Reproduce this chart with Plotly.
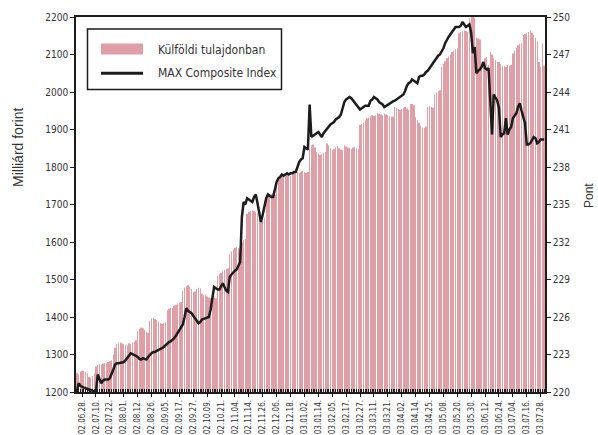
import plotly.graph_objects as go

# ---------------- data ----------------
tick_labels = [
    "02.06.28.", "02.07.10.", "02.07.22.", "02.08.01.", "02.08.12.", "02.08.26.",
    "02.09.05.", "02.09.17.", "02.09.27.", "02.10.09.", "02.10.21.", "02.11.04.",
    "02.11.14.", "02.11.26.", "02.12.06.", "02.12.18.", "03.01.02.", "03.01.14.",
    "03.02.05.", "03.02.17.", "03.02.27.", "03.03.11.", "03.03.21.", "03.04.02.",
    "03.04.14.", "03.04.25.", "03.05.08.", "03.05.20.", "03.05.30.", "03.06.12.",
    "03.06.24.", "03.07.04.", "03.07.16.", "03.07.28.",
]

# Külföldi tulajdonban (milliárd forint), one value per trading day
foreign_owned = [
    1250, 1247, 1255, 1257, 1256, 1254, 1250, 1240, 1238, 1242,
    1250, 1268, 1272, 1275, 1273, 1276, 1278, 1277, 1280, 1282,
    1285, 1300, 1318, 1328, 1330, 1332, 1330, 1328, 1326, 1325,
    1330, 1328, 1332, 1335, 1338, 1362, 1368, 1372, 1370, 1366,
    1360, 1358, 1390, 1396, 1398, 1395, 1392, 1388, 1385, 1382,
    1384, 1386, 1418, 1422, 1425, 1424, 1430, 1433, 1436, 1438,
    1440, 1470, 1478, 1482, 1485, 1480, 1475, 1466, 1468, 1475,
    1478, 1476, 1462, 1458, 1460, 1455, 1452, 1450, 1454, 1452,
    1450, 1510, 1515, 1518, 1522, 1526, 1528, 1530, 1568, 1575,
    1580, 1585, 1587, 1584, 1580, 1598, 1605, 1608, 1675, 1680,
    1683, 1685, 1682, 1680, 1678, 1670, 1660, 1655, 1665, 1718,
    1722, 1725, 1728, 1730, 1726, 1760, 1765, 1772, 1775, 1778,
    1780, 1783, 1778, 1776, 1785, 1788, 1790, 1787, 1785, 1788,
    1790, 1786, 1784, 1787, 1848, 1858, 1860, 1852, 1840, 1836,
    1832, 1835, 1838, 1840, 1863, 1858, 1850, 1845, 1848, 1852,
    1856, 1850, 1847, 1845, 1858, 1855, 1852, 1850, 1848, 1852,
    1855, 1850, 1848, 1912, 1915, 1918, 1925, 1930, 1932, 1935,
    1938, 1936, 1938, 1944, 1942, 1940, 1938, 1942, 1940, 1938,
    1936, 1935, 1934, 1960, 1958, 1955, 1952, 1955, 1958, 1960,
    1956, 1953, 1968, 1968, 1965, 1933, 1925, 1918, 1910, 1905,
    1904, 1908, 1960, 1962, 1960, 1958, 1992, 1998, 2002, 2005,
    2067, 2075, 2082, 2090, 2095, 2100, 2107, 2110, 2114, 2117,
    2157, 2160, 2162, 2165, 2163, 2160, 2197, 2205, 2200, 2198,
    2145, 2143, 2140, 2067, 2080, 2090, 2093, 2072, 2107, 2100,
    2090, 2085, 2080, 2080, 2075, 2070, 2068, 2067, 2072, 2070,
    2072, 2103, 2110, 2118, 2125, 2128, 2130, 2152, 2155, 2158,
    2160, 2165, 2158, 2152, 2145, 2135, 2080, 2067, 2130, 2070,
]

# MAX Composite Index (pont)
max_index = [
    220.0, 220.7, 220.5, 220.4, 220.35, 220.3, 220.25, 220.2, 220.2, 220.15,
    220.1, 220.0, 221.4, 221.1, 220.7, 220.9, 221.0, 221.0, 221.0, 221.1,
    221.4, 221.8, 222.2, 222.3, 222.3, 222.35, 222.35, 222.4, 222.55, 222.7,
    222.9, 223.1, 223.05, 222.95, 222.9, 222.8, 222.65, 222.6, 222.7, 222.65,
    222.6, 222.8, 223.0, 223.1, 223.2, 223.2, 223.3, 223.35, 223.4, 223.5,
    223.6, 223.75, 223.85, 224.0, 224.05, 224.15, 224.3, 224.5, 224.7, 225.0,
    225.2, 225.4, 226.0, 226.7, 226.5, 226.4, 226.3, 226.1, 225.9, 225.6,
    225.5, 225.6, 225.8, 225.85, 225.9, 225.95, 226.0, 226.6, 227.6, 228.4,
    228.3, 228.2, 228.2, 228.5, 228.7, 228.4, 228.1, 228.0, 229.2, 229.4,
    229.6, 229.7, 229.8, 230.1, 230.4, 234.0, 235.2, 235.0, 235.5, 235.4,
    235.3, 235.2, 235.6, 235.8, 235.1, 234.3, 233.6, 234.2, 235.0, 235.5,
    235.8, 235.7, 235.6, 235.6, 236.2, 236.8, 237.1, 237.2, 237.4, 237.3,
    237.4, 237.5, 237.4, 237.5, 237.5, 237.6, 237.6, 238.0, 238.4, 238.6,
    238.7, 239.6, 239.5, 239.4, 243.0, 240.4, 240.5, 240.6, 240.7, 240.8,
    240.6, 240.4, 240.7, 240.9, 241.0, 241.2, 241.4, 241.5, 241.6, 241.8,
    241.9, 242.0, 242.2, 242.7, 243.2, 243.4, 243.5, 243.6, 243.5, 243.3,
    243.1, 242.9, 242.7, 242.6, 242.7, 242.8, 242.9, 242.9, 242.9, 243.3,
    243.4, 243.6, 243.5, 243.4, 243.2, 243.1, 243.0, 242.8, 242.9, 243.0,
    243.1, 243.2, 243.25, 243.3, 243.4, 243.5, 243.6, 243.7, 243.8, 244.1,
    244.5, 244.7, 244.8, 245.0, 244.9, 244.8, 244.7, 245.2, 245.3, 245.3,
    245.4, 245.6, 245.7, 245.9, 246.1, 246.4, 246.6, 246.8, 246.9, 247.0,
    247.2, 247.5, 247.9, 248.2, 248.4, 248.6, 248.8, 249.1, 249.2, 249.2,
    249.2, 249.3, 249.6, 249.4, 249.2, 249.3, 249.4, 248.7, 247.1, 247.6,
    245.5, 245.7, 245.8, 246.0, 246.4, 245.9, 245.8, 245.9, 243.6, 240.6,
    243.8, 243.6, 243.3, 242.7, 240.4, 240.6, 240.7, 241.9, 240.6, 241.0,
    241.2, 241.9, 242.1, 242.3, 242.8, 243.1, 242.5, 242.0, 241.5, 239.8,
    239.8, 239.9, 240.2, 240.4, 240.3, 239.9, 240.0, 240.2, 240.2, 240.2,
]

series_names = ["Külföldi tulajdonban", "MAX Composite Index"]
left_title = "Milliárd forint"
right_title = "Pont"
left_ticks = list(range(1200, 2201, 100))
right_ticks = list(range(220, 251, 3))

# ---------------- styling ----------------
W, H = 598, 435
L, R, T, B = 76, 545, 17, 392
NARROW = "Liberation Sans Narrow, Arial Narrow, DejaVu Sans Condensed, sans-serif"
REG = "Liberation Sans, Arial, sans-serif"
PINK = "#DE9FA6"
INK = "#1c1c1c"
TXT = "#333333"

n = len(foreign_owned)
idx = list(range(n))
label_pos = [3 + 8 * k for k in range(len(tick_labels))]


def px_x(p):
    return (p - L) / (R - L)


def px_y(p):
    return (B - p) / (B - T)


fig = go.Figure()
fig.add_trace(go.Bar(
    x=idx, y=foreign_owned, name=series_names[0],
    marker=dict(color=PINK, line=dict(width=0)),
    showlegend=False, yaxis="y",
))
fig.add_trace(go.Scatter(
    x=idx, y=max_index, name=series_names[1], mode="lines",
    line=dict(color=INK, width=2.5), showlegend=False, yaxis="y2",
))

shapes = [
    # legend box
    dict(type="rect", xref="paper", yref="paper",
         x0=px_x(87.5), x1=px_x(281.5), y0=px_y(89.5), y1=px_y(29),
         line=dict(color=INK, width=1.5), fillcolor="white", layer="above"),
    dict(type="rect", xref="paper", yref="paper",
         x0=px_x(101), x1=px_x(143), y0=px_y(54.5), y1=px_y(43.5),
         line=dict(width=0), fillcolor=PINK, layer="above"),
    dict(type="line", xref="paper", yref="paper",
         x0=px_x(101), x1=px_x(143), y0=px_y(73.3), y1=px_y(73.3),
         line=dict(color=INK, width=3), layer="above"),
]

annotations = [
    dict(xref="paper", yref="paper", x=px_x(156), y=px_y(49.5),
         text=series_names[0], showarrow=False, xanchor="left", yanchor="middle",
         font=dict(family=NARROW, size=12, color=TXT)),
    dict(xref="paper", yref="paper", x=px_x(156), y=px_y(73.5),
         text=series_names[1], showarrow=False, xanchor="left", yanchor="middle",
         font=dict(family=NARROW, size=12, color=TXT)),
    dict(xref="paper", yref="paper", x=px_x(18), y=px_y(148),
         text=left_title, showarrow=False, textangle=-90,
         xanchor="center", yanchor="middle",
         font=dict(family=REG, size=14, color=TXT)),
    dict(xref="paper", yref="paper", x=px_x(598), y=px_y(196),
         text=right_title, showarrow=False, textangle=-90,
         xanchor="right", yanchor="middle",
         font=dict(family=REG, size=12, color=TXT)),
]

fig.update_layout(
    width=W, height=H, autosize=False,
    margin=dict(l=L, r=W - R, t=T, b=H - B, pad=0, autoexpand=False),
    paper_bgcolor="white", plot_bgcolor="white",
    bargap=0.8, showlegend=False,
    shapes=shapes, annotations=annotations,
    xaxis=dict(
        range=[-0.5, n - 0.5], tickmode="array", tickvals=label_pos, ticktext=tick_labels,
        tickangle=-90, ticks="outside", ticklen=3, tickcolor=INK, tickwidth=1,
        tickfont=dict(family=NARROW, size=8, color=TXT), automargin=False,
        showline=True, linecolor=INK, linewidth=1.5, mirror=True,
        showgrid=False, zeroline=False,
        minor=dict(ticks="inside", dtick=1, tick0=0, ticklen=3, tickcolor=INK,
                   tickwidth=1, showgrid=False),
    ),
    yaxis=dict(
        range=[1200, 2200], tickmode="array", tickvals=left_ticks,
        ticks="outside", ticklen=4, tickcolor=INK, automargin=False,
        tickfont=dict(family=NARROW, size=10, color=TXT),
        showline=True, linecolor=INK, linewidth=1.5,
        showgrid=False, zeroline=False,
    ),
    yaxis2=dict(
        range=[220, 250], tickmode="array", tickvals=right_ticks,
        overlaying="y", side="right", automargin=False,
        ticks="outside", ticklen=4, tickcolor=INK,
        tickfont=dict(family=NARROW, size=10, color=TXT),
        showline=True, linecolor=INK, linewidth=1.5,
        showgrid=False, zeroline=False,
    ),
)

fig.write_html("out.html", config={"displayModeBar": False},
               post_script="document.body.style.margin='0';")
